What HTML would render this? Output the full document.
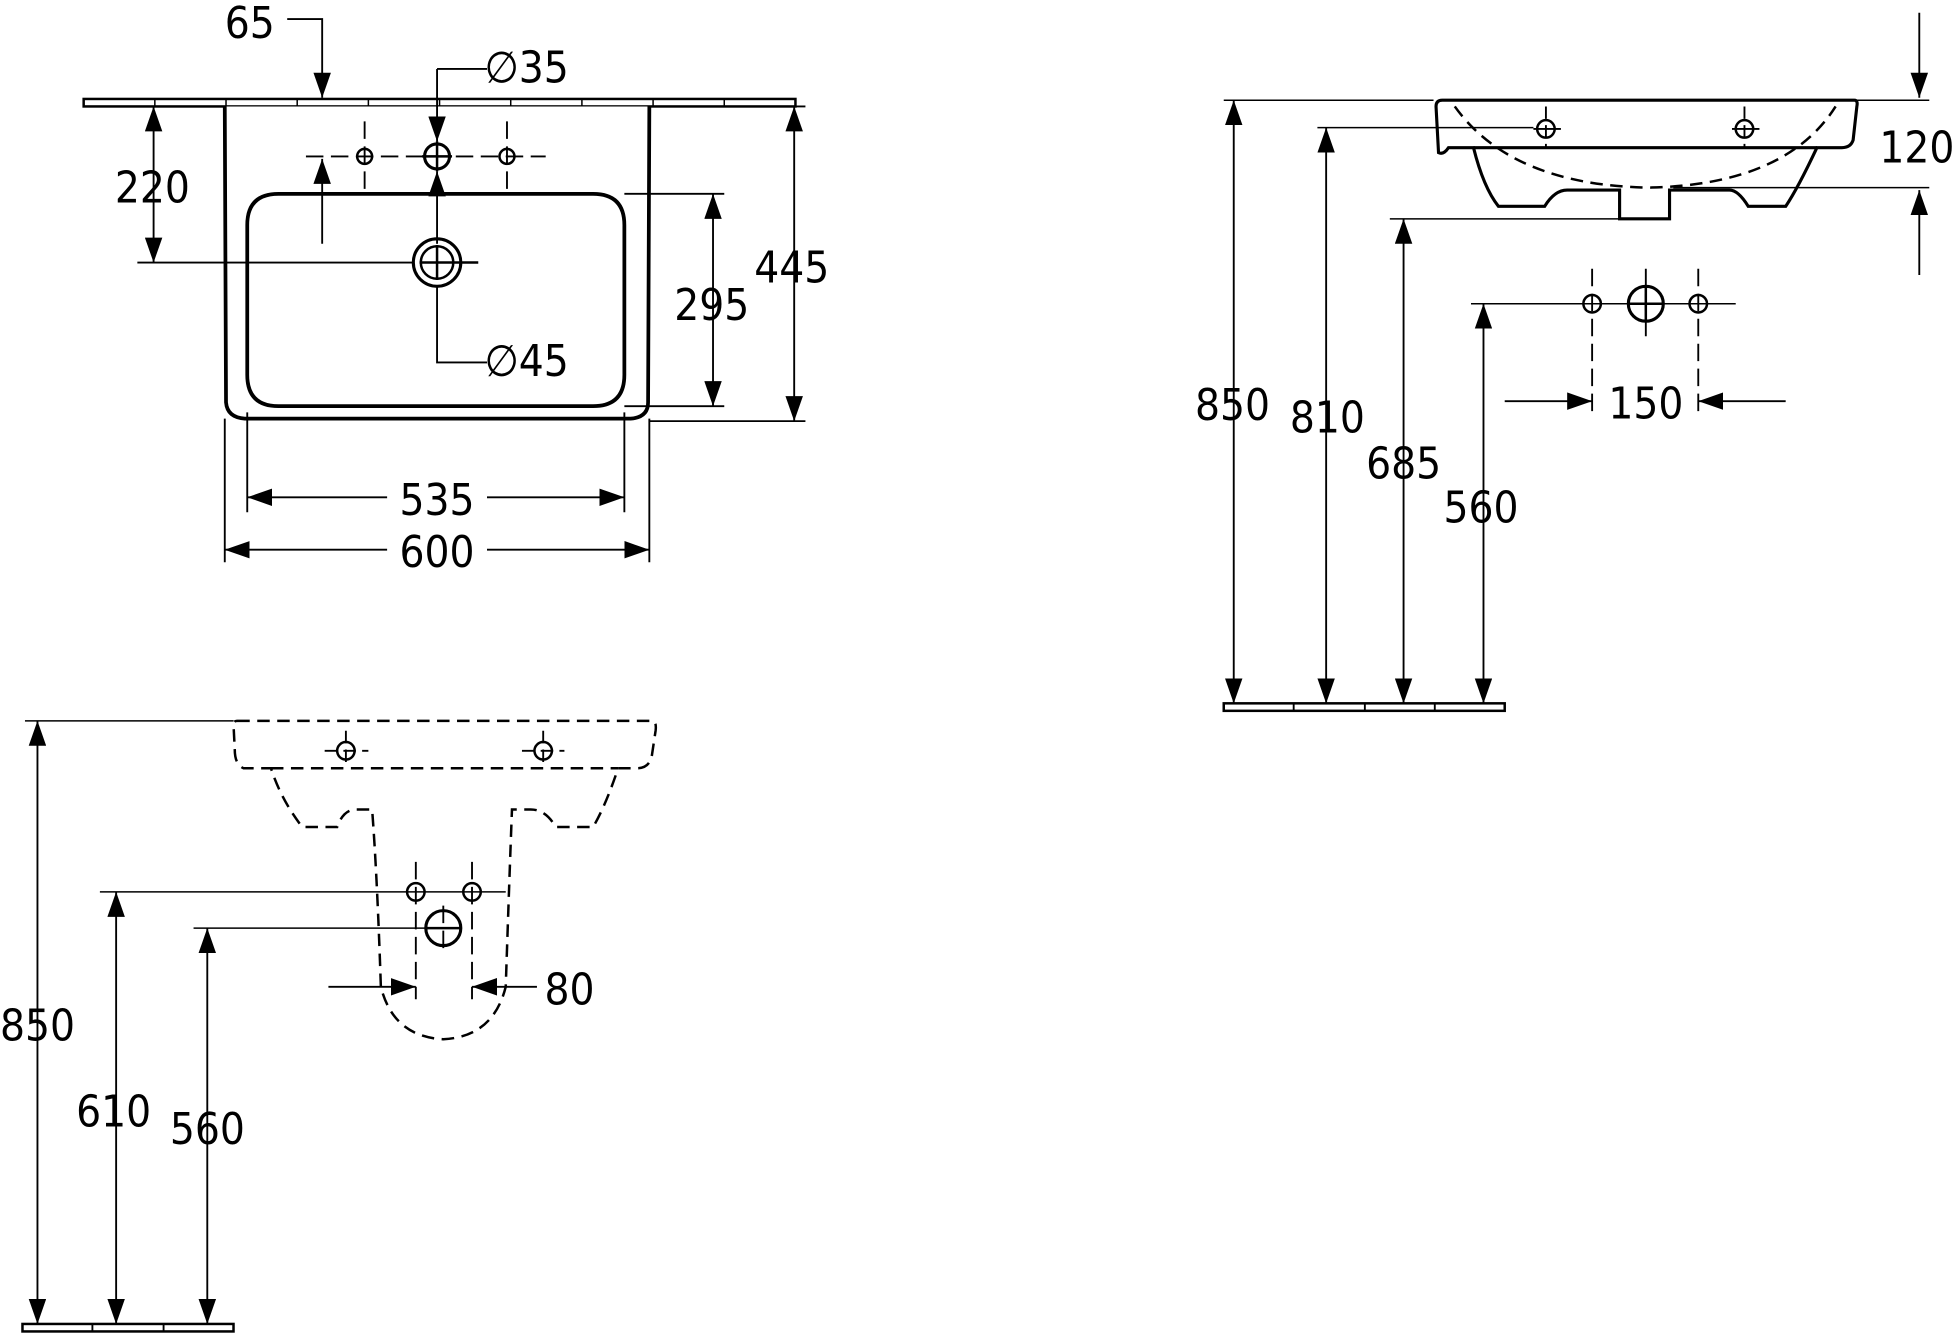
<!DOCTYPE html>
<html><head><meta charset="utf-8"><style>
html,body{margin:0;padding:0;background:#fff}
svg{display:block}
text{font-family:"DejaVu Sans Condensed","DejaVu Sans","Liberation Sans",sans-serif;font-size:35px;fill:#000}
</style></head><body>
<svg width="1958" height="1333" viewBox="0 0 1568 1067" xmlns="http://www.w3.org/2000/svg">
<defs>
<marker id="a" viewBox="0 0 20 14" refX="20" refY="7" markerWidth="20" markerHeight="14" markerUnits="userSpaceOnUse" orient="auto-start-reverse"><path d="M0,0 L20,7 L0,14 Z" fill="#000"/></marker>
</defs>
<g fill="none" stroke="#000" stroke-width="1.5">
<!-- TOP VIEW -->
<rect x="67" y="79" width="570" height="6" stroke-width="2"/>
<g stroke-width="1.2"><path d="M124,79v6M181,79v6M238,79v6M295,79v6M352,79v6M409,79v6M466,79v6M523,79v6M580,79v6"/></g>
<path d="M180,85 L181,322 Q182,334 196,335 L505,335 Q519,334 519,322 L520,85" stroke-width="3" fill="#fff"/>
<path d="M223,155 L475,155 Q500,155 500,180 L500,300 Q500,325 475,325 L223,325 Q198,325 198,300 L198,180 Q198,155 223,155 Z" stroke-width="3"/>
<path d="M230,15 H258 V78" marker-end="url(#a)"/>
<path d="M258,195 V127" marker-end="url(#a)"/>
<path d="M245,125 H437" stroke-dasharray="14,6"/>
<path d="M292,97 V155 M406,97 V155" stroke-dasharray="14,6"/>
<circle cx="292" cy="125" r="6" stroke-width="2"/><circle cx="406" cy="125" r="6" stroke-width="2"/>
<circle cx="350" cy="125" r="10" stroke-width="2.5"/>
<path d="M338,125 H362 M350,113 V137" stroke-width="2"/>
<path d="M350,55 H390"/>
<path d="M350,55 V113" marker-end="url(#a)"/>
<path d="M350,195 V137" marker-end="url(#a)"/>
<circle cx="350" cy="210" r="19" stroke-width="2.5"/><circle cx="350" cy="210" r="13" stroke-width="2"/>
<path d="M336,210 H383 M350,196 V224" stroke-width="2"/>
<path d="M110,210 H330"/>
<path d="M123,85 V210" marker-start="url(#a)" marker-end="url(#a)"/>
<path d="M350,228 V290 H390"/>
<path d="M500,155 H580 M500,325 H580"/>
<path d="M571,155 V325" marker-start="url(#a)" marker-end="url(#a)"/>
<path d="M520,85 H645 M520,337 H645"/>
<path d="M636,85 V337" marker-start="url(#a)" marker-end="url(#a)"/>
<path d="M198,330 V410 M500,330 V410 M180,335 V450 M520,335 V450"/>
<path d="M310,398 H198" marker-end="url(#a)"/><path d="M390,398 H500" marker-end="url(#a)"/>
<path d="M310,440 H180" marker-end="url(#a)"/><path d="M390,440 H520" marker-end="url(#a)"/>

<!-- SIDE VIEW -->
<path d="M1155,80 L1485,80 Q1488,80 1487,85 L1484,112 Q1482,118 1475,118 L1455,118 Q1440,150 1430,165 L1400,165 Q1392,152 1385,152 L1337,152 V175 H1297 V152 L1255,152 Q1245,152 1237,165 L1200,165 Q1188,150 1180,118 L1160,118 Q1156,124 1152,122 L1150,85 Q1150,80 1155,80 Z" stroke-width="2.5"/>
<path d="M1180,118 H1455" stroke-width="2.5"/>
<path d="M1165,85 Q1210,148 1320,150 Q1430,148 1470,85" stroke-dasharray="10,6" stroke-width="2"/>
<path d="M1238,85 V118 M1397,85 V118" stroke-dasharray="10,5"/>
<circle cx="1238" cy="103" r="7" stroke-width="2"/><circle cx="1397" cy="103" r="7" stroke-width="2"/>
<path d="M1228,103 H1250 M1387,103 H1409"/>
<path d="M980,80 H1148 M1055,102 H1228 M1113,175 H1297 M1178,243 H1390" stroke-width="1.2"/>
<path d="M988,80 V563" marker-start="url(#a)" marker-end="url(#a)"/>
<path d="M1062,563 V102" marker-start="url(#a)" marker-end="url(#a)"/>
<path d="M1124,563 V175" marker-start="url(#a)" marker-end="url(#a)"/>
<path d="M1188,563 V243" marker-start="url(#a)" marker-end="url(#a)"/>
<rect x="980" y="563" width="225" height="6" stroke-width="2"/>
<path d="M1036,563v6M1093,563v6M1149,563v6"/>
<circle cx="1275" cy="243" r="7" stroke-width="2"/><circle cx="1318" cy="243" r="14" stroke-width="2.5"/><circle cx="1360" cy="243" r="7" stroke-width="2"/>
<path d="M1304,243 H1332 M1318,229 V257" stroke-width="2"/>
<path d="M1275,215 V330 M1360,215 V330 M1318,215 V272" stroke-dasharray="14,6"/>
<path d="M1205,321 H1275" marker-end="url(#a)"/><path d="M1430,321 H1360" marker-end="url(#a)"/>
<path d="M1487,80 H1545 M1340,150 H1545" stroke-width="1.2"/>
<path d="M1537,10 V78" marker-end="url(#a)"/><path d="M1537,220 V152" marker-end="url(#a)"/>

<!-- FRONT VIEW -->
<g stroke-dasharray="10,6" stroke-width="2">
<path d="M190,577 H522 Q526,577 525,585 L522,605 Q520,615 510,615 L495,615 Q485,645 475,662 L445,662 Q437,648 425,648 L410,648 Q408,700 405,790 Q395,830 355,832 Q315,830 305,790 Q302,700 298,648 L285,648 Q275,648 270,662 L242,662 Q225,640 217,615 L195,615 Q188,612 188,600 L187,580 Q187,577 190,577 Z"/>
<path d="M217,615 H495"/>
</g>
<path d="M277,585 V615 M435,585 V615" stroke-dasharray="10,5"/>
<path d="M260,601 H295 M418,601 H452" stroke-dasharray="10,5"/>
<circle cx="277" cy="601" r="7" stroke-width="2"/><circle cx="435" cy="601" r="7" stroke-width="2"/>
<path d="M20,577 H187 M80,714 H405 M155,743 H355" stroke-width="1.2"/>
<path d="M30,577 V1060" marker-start="url(#a)" marker-end="url(#a)"/>
<path d="M93,1060 V714" marker-start="url(#a)" marker-end="url(#a)"/>
<path d="M166,1060 V743" marker-start="url(#a)" marker-end="url(#a)"/>
<rect x="18" y="1060" width="169" height="6" stroke-width="2"/>
<path d="M74,1060v6M131,1060v6"/>
<circle cx="333" cy="714" r="7" stroke-width="2"/><circle cx="378" cy="714" r="7" stroke-width="2"/>
<circle cx="355" cy="743" r="14" stroke-width="2.5"/>
<path d="M341,743 H369" stroke-width="2"/>
<path d="M333,690 V800 M378,690 V800 M355,725 V765" stroke-dasharray="14,6"/>
<path d="M263,790 H333" marker-end="url(#a)"/><path d="M430,790 H378" marker-end="url(#a)"/>
</g>
<g>
<text x="180" y="30">65</text>
<text x="388" y="66">∅35</text>
<text x="92" y="162">220</text>
<text x="388" y="301">∅45</text>
<text x="540" y="256">295</text>
<text x="604" y="226">445</text>
<text x="350" y="412" text-anchor="middle">535</text>
<text x="350" y="454" text-anchor="middle">600</text>
<text x="957" y="336">850</text>
<text x="1033" y="346">810</text>
<text x="1094" y="383">685</text>
<text x="1156" y="418">560</text>
<text x="1288" y="335">150</text>
<text x="1505" y="130">120</text>
<text x="0" y="833">850</text>
<text x="61" y="902">610</text>
<text x="136" y="916">560</text>
<text x="436" y="804">80</text>
</g>
</svg>
</body></html>
